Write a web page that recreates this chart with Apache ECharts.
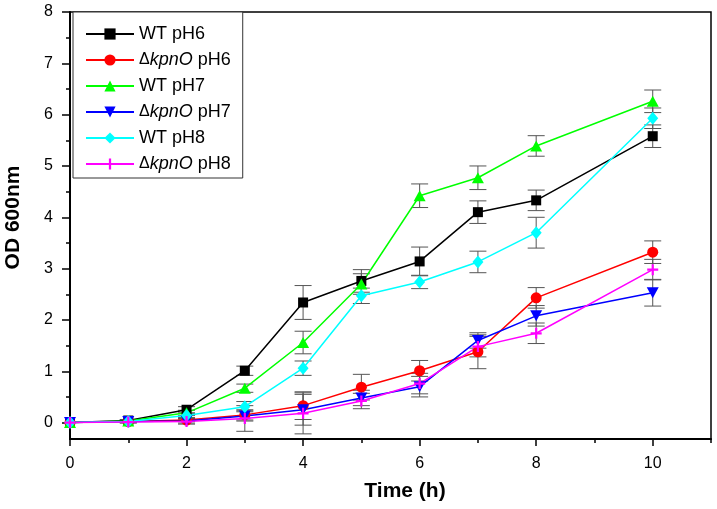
<!DOCTYPE html>
<html>
<head>
<meta charset="utf-8">
<script src="https://cdn.jsdelivr.net/npm/echarts@6/dist/echarts.min.js"></script>
<style>
html,body{margin:0;padding:0;background:#fff;}
#chart{width:717px;height:509px;}
</style>
</head>
<body>
<div id="chart"></div>
<script>
// ---- data ----
var timePoints = [0, 1, 2, 3, 4, 5, 6, 7, 8, 10];
var seriesNames = ['WT pH6', 'ΔkpnO pH6', 'WT pH7', 'ΔkpnO pH7', 'WT pH8', 'ΔkpnO pH8'];
var wtPH6 = [0, 0.04, 0.25, 1.01, 2.34, 2.76, 3.14, 4.10, 4.33, 5.58];
var koPH6 = [0, 0.02, 0.05, 0.15, 0.33, 0.69, 1.01, 1.38, 2.43, 3.32];
var wtPH7 = [0, 0.03, 0.19, 0.67, 1.56, 2.70, 4.42, 4.77, 5.39, 6.26];
var koPH7 = [0, 0.02, 0.03, 0.13, 0.25, 0.48, 0.70, 1.60, 2.08, 2.53];
var wtPH8 = [0, 0.02, 0.14, 0.31, 1.06, 2.47, 2.74, 3.13, 3.70, 5.93];
var koPH8 = [0, 0.01, 0.02, 0.08, 0.18, 0.42, 0.76, 1.48, 1.74, 2.98];
var errWtPH6 = [0, 0.02, 0.06, 0.09, 0.33, 0.22, 0.28, 0.22, 0.20, 0.22];
var errKoPH6 = [0, 0.02, 0.03, 0.10, 0.27, 0.25, 0.20, 0.33, 0.20, 0.22];
var errWtPH7 = [0, 0.02, 0.05, 0.08, 0.22, 0.20, 0.23, 0.23, 0.20, 0.22];
var errKoPH7 = [0, 0.02, 0.04, 0.10, 0.30, 0.15, 0.20, 0.15, 0.20, 0.26];
var errWtPH8 = [0, 0.02, 0.04, 0.10, 0.14, 0.15, 0.13, 0.21, 0.30, 0.20];
var errKoPH8 = [0, 0.02, 0.05, 0.25, 0.40, 0.15, 0.20, 0.20, 0.20, 0.20];
var xLabelValues = [0, 2, 4, 6, 8, 10];
var xMinorValues = [1, 3, 5, 7, 9, 11];
var yLabelValues = [0, 1, 2, 3, 4, 5, 6, 7, 8];
var yMinorValues = [0.5, 1.5, 2.5, 3.5, 4.5, 5.5, 6.5, 7.5];

// ---- styling ----
var values = [wtPH6, koPH6, wtPH7, koPH7, wtPH8, koPH8];
var errors = [errWtPH6, errKoPH6, errWtPH7, errKoPH7, errWtPH8, errKoPH8];
var colors = ['#000000', '#ff0000', '#00ff00', '#0000ff', '#00ffff', '#ff00ff'];
var symbols = ['rect', 'circle', 'triangle', 'triangle', 'diamond',
  'path://M4,0h2v10h-2z M0,4h10v2h-10z'];
var symbolSizes = [10, 11, [12, 11], [12, 11], [11, 13], 11];
var symbolRotates = [0, 0, 0, 180, 0, 0];
var FONT = 'Liberation Sans, Arial, sans-serif';

function pairs(arr) {
  return timePoints.map(function (t, i) { return [t, arr[i]]; });
}

var series = [];
// error bars first (drawn beneath)
values.forEach(function (arr, k) {
  var d = [];
  timePoints.forEach(function (t, i) {
    if (errors[k][i] > 0) d.push([t, arr[i] - errors[k][i], arr[i] + errors[k][i]]);
  });
  series.push({
    type: 'custom',
    name: 'err' + k,
    z: 1,
    silent: true,
    encode: { x: 0, y: [1, 2] },
    data: d,
    renderItem: function (params, api) {
      var x = api.value(0), lo = api.value(1), hi = api.value(2);
      var p1 = api.coord([x, hi]), p2 = api.coord([x, lo]);
      var w = 8.5;
      var st = { stroke: '#555555', lineWidth: 1 };
      return {
        type: 'group',
        children: [
          { type: 'line', shape: { x1: p1[0], y1: p1[1], x2: p2[0], y2: p2[1] }, style: st },
          { type: 'line', shape: { x1: p1[0] - w, y1: p1[1], x2: p1[0] + w, y2: p1[1] }, style: st },
          { type: 'line', shape: { x1: p2[0] - w, y1: p2[1], x2: p2[0] + w, y2: p2[1] }, style: st }
        ]
      };
    }
  });
});
values.forEach(function (arr, k) {
  series.push({
    type: 'line',
    name: seriesNames[k],
    data: pairs(arr),
    z: 3,
    color: colors[k],
    symbol: symbols[k],
    symbolSize: symbolSizes[k],
    symbolRotate: symbolRotates[k],
    showSymbol: true,
    lineStyle: { color: colors[k], width: 1.5 },
    itemStyle: { color: colors[k] },
    emphasis: { disabled: true }
  });
});

var chart = echarts.init(document.getElementById('chart'), null, { renderer: 'canvas' });
chart.setOption({
  animation: false,
  backgroundColor: '#ffffff',
  textStyle: { fontFamily: FONT },
  grid: { left: 70, right: 6, top: 12, bottom: 70, show: true, borderColor: '#000', borderWidth: 1.5,
    containLabel: false, outerBoundsMode: 'none' },
  legend: {
    data: seriesNames,
    orient: 'vertical',
    left: 73,
    top: 12,
    itemWidth: 48,
    itemHeight: 14,
    itemGap: 8,
    padding: [13, 12, 5, 12],
    borderColor: '#333',
    borderWidth: 1,
    backgroundColor: '#fff',
    selectedMode: false,
    textStyle: {
      fontFamily: FONT, fontSize: 18, color: '#000',
      rich: {
        d: { fontFamily: FONT, fontSize: 16, color: '#000' },
        i: { fontFamily: FONT, fontSize: 18, fontStyle: 'italic', color: '#000' },
        n: { fontFamily: FONT, fontSize: 18, color: '#000' }
      }
    },
    formatter: function (name) {
      if (name.charAt(0) === 'Δ') {
        var rest = name.slice(1);
        var sp = rest.indexOf(' ');
        return '{d|Δ}{i|' + rest.slice(0, sp) + '}{n|' + rest.slice(sp) + '}';
      }
      return name;
    }
  },
  xAxis: [{
    type: 'value', min: 0, max: 11,
    name: 'Time (h)', nameLocation: 'middle', nameGap: 42,
    nameTextStyle: { fontFamily: FONT, fontSize: 21, fontWeight: 'bold', color: '#000', padding: [0, 0, 0, 29] },
    axisLine: { show: true, onZero: false, lineStyle: { color: '#000', width: 2 } },
    axisTick: { show: true, inside: false, length: 7, customValues: xLabelValues, lineStyle: { color: '#000', width: 1.5 } },
    axisLabel: { show: true, margin: 17, customValues: xLabelValues, fontFamily: FONT, fontSize: 16, color: '#000' },
    splitLine: { show: false }
  }, {
    type: 'value', min: 0, max: 11, position: 'bottom',
    axisLine: { show: false, onZero: false },
    axisTick: { show: true, inside: false, length: 4, customValues: xMinorValues, lineStyle: { color: '#000', width: 1.5 } },
    axisLabel: { show: false },
    splitLine: { show: false }
  }],
  yAxis: [{
    type: 'value', min: -0.32, max: 8,
    name: 'OD 600nm', nameLocation: 'middle', nameGap: 46,
    nameTextStyle: { fontFamily: FONT, fontSize: 21, fontWeight: 'bold', color: '#000', padding: [0, 0, 0, 16] },
    axisLine: { show: true, onZero: false, lineStyle: { color: '#000', width: 2 } },
    axisTick: { show: true, inside: false, length: 8, customValues: yLabelValues, lineStyle: { color: '#000', width: 1.5 } },
    axisLabel: { show: true, margin: 17, customValues: yLabelValues, fontFamily: FONT, fontSize: 16, color: '#000' },
    splitLine: { show: false }
  }, {
    type: 'value', min: -0.32, max: 8, position: 'left',
    axisLine: { show: false, onZero: false },
    axisTick: { show: true, inside: false, length: 4, customValues: yMinorValues, lineStyle: { color: '#000', width: 1.5 } },
    axisLabel: { show: false },
    splitLine: { show: false }
  }],
  series: series
});
</script>
</body>
</html>
